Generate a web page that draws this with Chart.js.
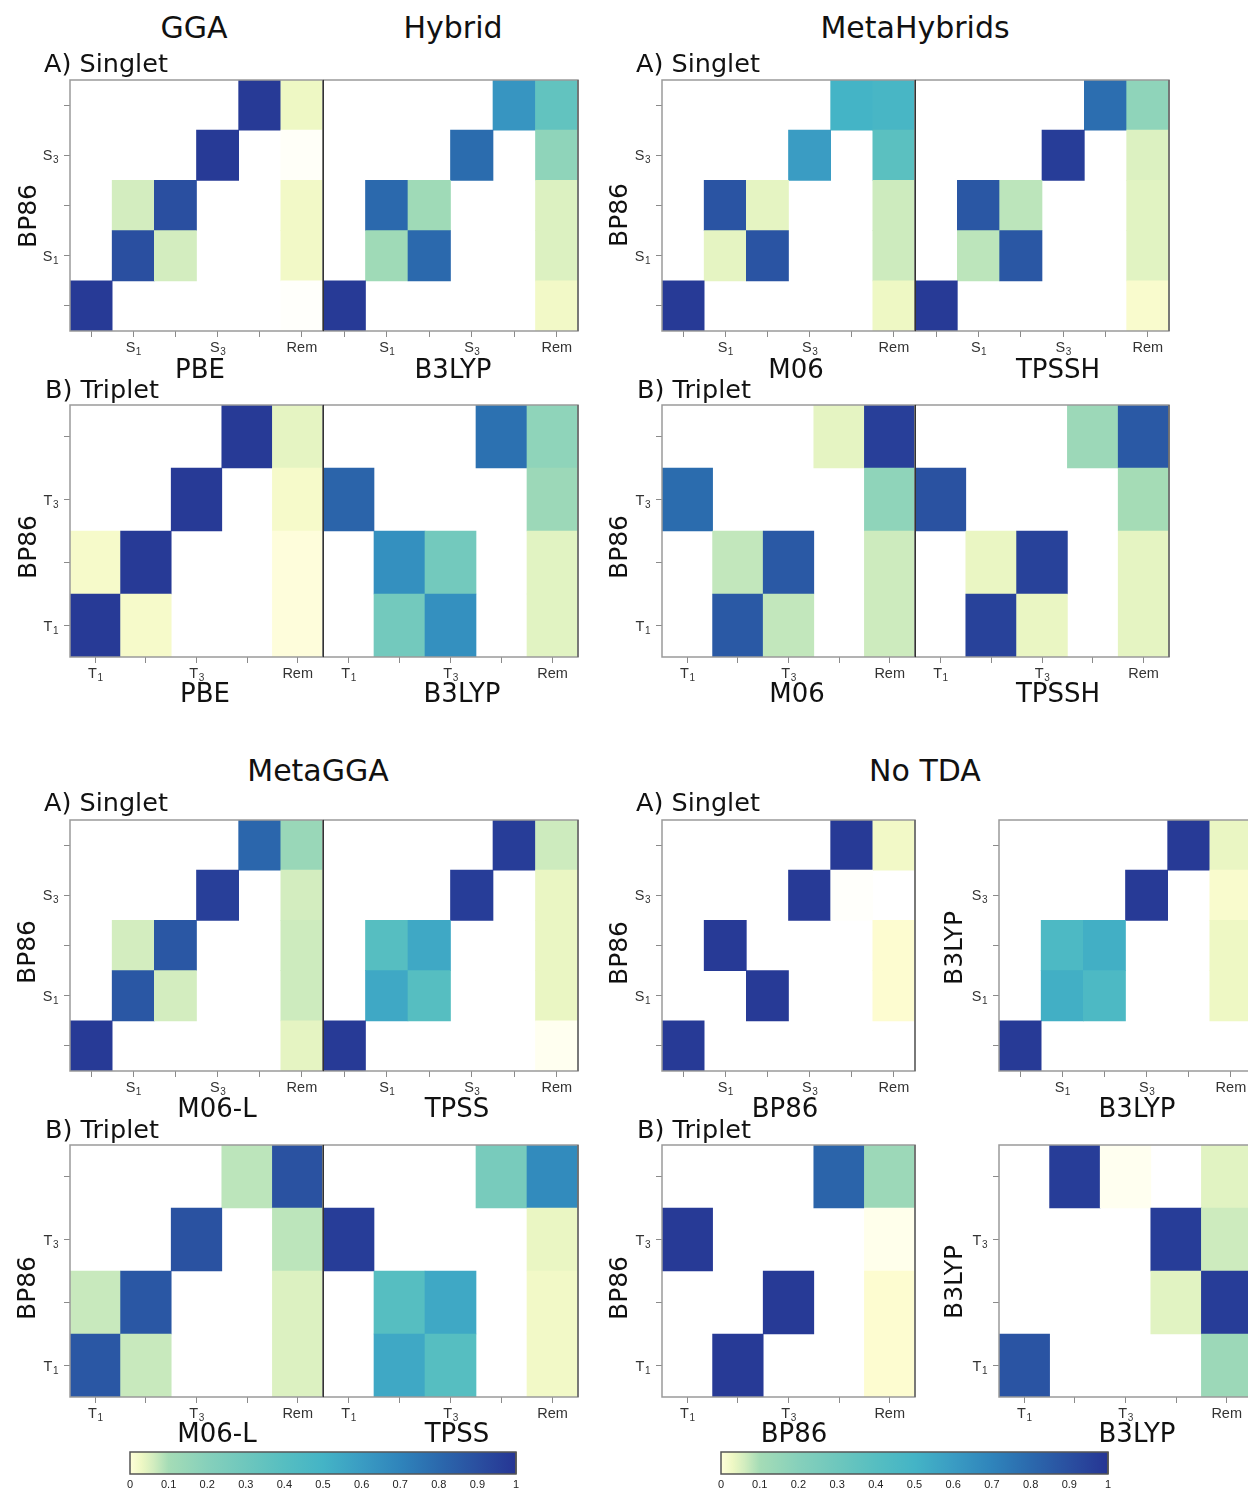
<!DOCTYPE html>
<html>
<head>
<meta charset="utf-8">
<title>State overlap heatmaps</title>
<script src="https://cdn.jsdelivr.net/npm/chart.js@4.4.1/dist/chart.umd.min.js"></script>
<style>
  html, body { margin: 0; padding: 0; width: 1248px; height: 1492px; overflow: hidden; background: #fff; }
  #fig { position: relative; width: 1248px; height: 1492px; }
  canvas { position: absolute; }
  .t { position: absolute; white-space: nowrap; line-height: 1; font-family: 'DejaVu Sans', sans-serif; color: #111; }
</style>
</head>
<body>
<div id="fig"></div>
<script>
// axis categories ("_" marks a subscript in tick labels)
const singletStates = ['S0', 'S1', 'S2', 'S3', 'S4', 'Rem'];
const singletRows = ['S0', 'S1', 'S2', 'S3', 'S4'];
const singletXTicks = ['', 'S_1', '', 'S_3', '', 'Rem'];
const singletYTicks = ['', 'S_1', '', 'S_3', ''];
const tripletStates = ['T1', 'T2', 'T3', 'T4', 'Rem'];
const tripletRows = ['T1', 'T2', 'T3', 'T4'];
const tripletXTicks = ['T_1', '', 'T_3', '', 'Rem'];
const tripletYTicks = ['T_1', '', 'T_3', ''];
const colorbarRange = [0, 1];
const colorbarTicks = [0, 0.1, 0.2, 0.3, 0.4, 0.5, 0.6, 0.7, 0.8, 0.9, 1];

// overlap values, one row per BP86 state (lowest first), last column = Rem; 0 = empty cell
const pbeSinglet = [
  [0.98, 0, 0, 0, 0, 0.001],
  [0, 0.90, 0.06, 0, 0, 0.025],
  [0, 0.06, 0.90, 0, 0, 0.025],
  [0, 0, 0, 0.98, 0, 0.002],
  [0, 0, 0, 0, 0.98, 0.03]
];
const b3lypSinglet = [
  [0.98, 0, 0, 0, 0, 0.025],
  [0, 0.12, 0.80, 0, 0, 0.05],
  [0, 0.80, 0.12, 0, 0, 0.05],
  [0, 0, 0, 0.79, 0, 0.17],
  [0, 0, 0, 0, 0.63, 0.35]
];
const m06Singlet = [
  [0.98, 0, 0, 0, 0, 0.03],
  [0, 0.04, 0.88, 0, 0, 0.065],
  [0, 0.88, 0.04, 0, 0, 0.065],
  [0, 0, 0, 0.60, 0, 0.38],
  [0, 0, 0, 0, 0.50, 0.48]
];
const tpsshSinglet = [
  [0.98, 0, 0, 0, 0, 0.015],
  [0, 0.08, 0.87, 0, 0, 0.045],
  [0, 0.87, 0.08, 0, 0, 0.045],
  [0, 0, 0, 0.97, 0, 0.05],
  [0, 0, 0, 0, 0.78, 0.17]
];
const pbeTriplet = [
  [0.98, 0.02, 0, 0, 0.008],
  [0.02, 0.98, 0, 0, 0.008],
  [0, 0, 0.98, 0, 0.02],
  [0, 0, 0, 0.98, 0.04]
];
const b3lypTriplet = [
  [0, 0.28, 0.65, 0, 0.045],
  [0, 0.65, 0.28, 0, 0.045],
  [0.82, 0, 0, 0, 0.13],
  [0, 0, 0, 0.77, 0.17]
];
const m06Triplet = [
  [0, 0.86, 0.075, 0, 0.065],
  [0, 0.075, 0.86, 0, 0.065],
  [0.79, 0, 0, 0, 0.17],
  [0, 0, 0, 0.04, 0.96]
];
const tpsshTriplet = [
  [0, 0.95, 0.035, 0, 0.04],
  [0, 0.035, 0.95, 0, 0.04],
  [0.89, 0, 0, 0, 0.10],
  [0, 0, 0, 0.13, 0.86]
];
const m06lSinglet = [
  [0.98, 0, 0, 0, 0, 0.04],
  [0, 0.87, 0.06, 0, 0, 0.065],
  [0, 0.06, 0.87, 0, 0, 0.065],
  [0, 0, 0, 0.96, 0, 0.06],
  [0, 0, 0, 0, 0.81, 0.14]
];
const tpssSinglet = [
  [0.98, 0, 0, 0, 0, 0.004],
  [0, 0.55, 0.40, 0, 0, 0.035],
  [0, 0.40, 0.55, 0, 0, 0.035],
  [0, 0, 0, 0.97, 0, 0.035],
  [0, 0, 0, 0, 0.97, 0.065]
];
const m06lTriplet = [
  [0.87, 0.07, 0, 0, 0.05],
  [0.07, 0.87, 0, 0, 0.05],
  [0, 0, 0.89, 0, 0.08],
  [0, 0, 0, 0.08, 0.89]
];
const tpssTriplet = [
  [0, 0.55, 0.40, 0, 0.025],
  [0, 0.40, 0.55, 0, 0.025],
  [0.97, 0, 0, 0, 0.035],
  [0, 0, 0, 0.26, 0.67]
];
const bp86NoTdaSinglet = [
  [0.98, 0, 0, 0, 0, 0],
  [0, 0, 0.98, 0, 0, 0.01],
  [0, 0.98, 0, 0, 0, 0.01],
  [0, 0, 0, 0.98, 0.001, 0],
  [0, 0, 0, 0, 0.98, 0.025]
];
const b3lypNoTdaSinglet = [
  [0.98, 0, 0, 0, 0, 0],
  [0, 0.52, 0.45, 0, 0, 0.03],
  [0, 0.45, 0.52, 0, 0, 0.03],
  [0, 0, 0, 0.98, 0, 0.015],
  [0, 0, 0, 0, 0.98, 0.035]
];
const bp86NoTdaTriplet = [
  [0, 0.98, 0, 0, 0.01],
  [0, 0, 0.98, 0, 0.01],
  [0.98, 0, 0, 0, 0.005],
  [0, 0, 0, 0.82, 0.13]
];
const b3lypNoTdaTriplet = [
  [0.88, 0, 0, 0, 0.13],
  [0, 0, 0, 0.045, 0.97],
  [0, 0, 0, 0.97, 0.065],
  [0, 0.97, 0.004, 0, 0.045]
];

// colour map (near-zero end fades to white)
const cmapStops = [
  [0, '#ffffff'], [0.004, '#fffff0'], [0.01, '#fdfcd0'], [0.03, '#eef8c4'], [0.06, '#d3edbf'],
  [0.1, '#a5dcb6'], [0.2, '#86d0bb'], [0.3, '#6ec7bd'], [0.4, '#56bec1'], [0.5, '#44b4c6'],
  [0.6, '#3a9cc3'], [0.7, '#2f84bb'], [0.8, '#2b69ad'], [0.9, '#2a4fa0'], [1, '#263594']
];
const barStops = [
  [0, '#ffffd9'], [0.03, '#eef8c4'], [0.06, '#d3edbf'], [0.1, '#a5dcb6'],
  [0.2, '#86d0bb'], [0.3, '#6ec7bd'], [0.4, '#56bec1'], [0.5, '#44b4c6'],
  [0.6, '#3a9cc3'], [0.7, '#2f84bb'], [0.8, '#2b69ad'], [0.9, '#2a4fa0'], [1, '#263594']
];

function hexRgb(h) {
  return [1, 3, 5].map(i => parseInt(h.slice(i, i + 2), 16));
}

function colorFor(v) {
  if (!v) return 'rgba(0,0,0,0)';
  for (let i = 1; i < cmapStops.length; i++) {
    const [t1, c1] = cmapStops[i];
    if (v <= t1) {
      const [t0, c0] = cmapStops[i - 1];
      const f = (v - t0) / (t1 - t0);
      const a = hexRgb(c0), b = hexRgb(c1);
      const c = a.map((x, k) => Math.round(x + (b[k] - x) * f));
      return 'rgb(' + c.join(',') + ')';
    }
  }
  return cmapStops[cmapStops.length - 1][1];
}

// draws the box round each plot area
const framePlugin = {
  id: 'frame',
  afterDraw(chart, args, opts) {
    const { ctx, chartArea: a } = chart;
    ctx.save();
    ctx.lineWidth = 1.5;
    ctx.strokeStyle = opts.color || '#9a9a9a';
    ctx.strokeRect(a.left, a.top, a.width, a.height);
    ctx.strokeStyle = opts.rightColor || '#666';
    ctx.beginPath();
    ctx.moveTo(a.right, a.top);
    ctx.lineTo(a.right, a.bottom);
    ctx.stroke();
    if (opts.sepLeft) {
      ctx.lineWidth = 2;
      ctx.strokeStyle = '#333';
      ctx.beginPath();
      ctx.moveTo(a.left, a.top);
      ctx.lineTo(a.left, a.bottom);
      ctx.stroke();
    }
    ctx.restore();
  }
};

// tick labels with a real subscript, placed at the scale's tick pixels
const LABEL_FONT = '"Liberation Sans", Arial, sans-serif';
const subLabelPlugin = {
  id: 'subLabels',
  afterDraw(chart, args, opts) {
    const { ctx, chartArea: a } = chart;
    ctx.save();
    ctx.fillStyle = '#333';
    ctx.textBaseline = 'alphabetic';
    ctx.textAlign = 'left';
    const draw = (label, x, y, align) => {
      const [main, sub] = label.split('_');
      ctx.font = '14.5px ' + LABEL_FONT;
      const w1 = ctx.measureText(main).width;
      ctx.font = '10px ' + LABEL_FONT;
      const w2 = sub ? ctx.measureText(sub).width : 0;
      const x0 = align === 'right' ? x - w1 - w2 : x - (w1 + w2) / 2;
      ctx.font = '14.5px ' + LABEL_FONT;
      ctx.fillText(main, x0, y);
      if (sub) {
        ctx.font = '10px ' + LABEL_FONT;
        ctx.fillText(sub, x0 + w1 + 0.5, y + 3);
      }
    };
    const xs = chart.scales.x;
    opts.x.forEach((lab, i) => { if (lab) draw(lab, xs.getPixelForTick(i), a.bottom + 21, 'center'); });
    const ys = chart.scales.y;
    if (ys.options.display) {
      opts.y.forEach((lab, i) => { if (lab) draw(lab, a.left - 12, ys.getPixelForTick(i) + 5, 'right'); });
    }
    ctx.restore();
  }
};

Chart.defaults.font.family = "'Liberation Sans', Arial, sans-serif";

const fig = document.getElementById('fig');

function text(str, x, y, size, align, rotate) {
  const d = document.createElement('div');
  d.className = 't';
  d.textContent = str;
  d.style.fontSize = size + 'px';
  d.style.left = x + 'px';
  d.style.top = y + 'px';
  let tf = align === 'left' ? 'translate(0,-50%)' : 'translate(-50%,-50%)';
  if (rotate) tf += ' rotate(-90deg)';
  d.style.transform = tf;
  fig.appendChild(d);
}

function heatmap(p) {
  const singlet = p.kind === 'S';
  const cols = singlet ? singletStates : tripletStates;
  const rows = singlet ? singletRows : tripletRows;
  const xTicks = singlet ? singletXTicks : tripletXTicks;
  const yTicks = singlet ? singletYTicks : tripletYTicks;
  const yW = p.yAxis ? 70 : 0;
  const padT = 12, padR = 4, xH = 30;
  const canvas = document.createElement('canvas');
  canvas.width = yW + (p.x1 - p.x0) + padR;
  canvas.height = padT + (p.y1 - p.y0) + xH;
  canvas.style.left = (p.x0 - yW) + 'px';
  canvas.style.top = (p.y0 - padT) + 'px';
  fig.appendChild(canvas);

  new Chart(canvas, {
    type: 'bar',
    data: {
      labels: cols,
      datasets: p.values.map((row, r) => ({
        data: row.map(v => (v > 0 ? [r, r + 1] : null)),
        backgroundColor: row.map(colorFor),
        borderWidth: 0,
        barPercentage: 1,
        categoryPercentage: 1,
        grouped: false
      }))
    },
    options: {
      responsive: false,
      animation: false,
      devicePixelRatio: 1,
      events: [],
      layout: { padding: { top: padT, right: padR, left: 0, bottom: 0 } },
      plugins: {
        legend: { display: false },
        tooltip: { enabled: false },
        frame: { sepLeft: !!p.sepLeft },
        subLabels: { x: xTicks, y: yTicks }
      },
      scales: {
        x: {
          type: 'category',
          offset: true,
          border: { display: false },
          grid: { offset: false, drawOnChartArea: false, tickLength: 6, color: '#8a8a8a' },
          ticks: { autoSkip: false, maxRotation: 0, callback: () => '' },
          afterFit: s => { s.height = xH; }
        },
        y: {
          type: 'linear',
          display: p.yAxis,
          min: 0,
          max: rows.length,
          border: { display: false },
          grid: { drawOnChartArea: false, tickLength: 6, color: '#8a8a8a' },
          afterBuildTicks: s => { s.ticks = rows.map((_, i) => ({ value: i + 0.5 })); },
          ticks: { callback: () => '' },
          afterFit: s => { s.width = yW; }
        }
      }
    },
    plugins: [framePlugin, subLabelPlugin]
  });
}

function colorbar(x0, x1, y0, y1) {
  const padL = 12, padR = 12, padT = 2, axisH = 22;
  const canvas = document.createElement('canvas');
  canvas.width = padL + (x1 - x0) + padR;
  canvas.height = padT + (y1 - y0) + axisH;
  canvas.style.left = (x0 - padL) + 'px';
  canvas.style.top = (y0 - padT) + 'px';
  fig.appendChild(canvas);

  new Chart(canvas, {
    type: 'bar',
    data: {
      labels: ['colour'],
      datasets: [{
        data: [colorbarRange],
        backgroundColor: ctx => {
          const a = ctx.chart.chartArea;
          if (!a) return '#fff';
          const g = ctx.chart.ctx.createLinearGradient(a.left, 0, a.right, 0);
          barStops.forEach(([t, c]) => g.addColorStop(t, c));
          return g;
        },
        borderWidth: 0,
        barPercentage: 1,
        categoryPercentage: 1
      }]
    },
    options: {
      indexAxis: 'y',
      responsive: false,
      animation: false,
      devicePixelRatio: 1,
      events: [],
      layout: { padding: { top: padT, left: padL, right: padR, bottom: 0 } },
      plugins: {
        legend: { display: false },
        tooltip: { enabled: false },
        frame: { color: '#555', rightColor: '#555' }
      },
      scales: {
        x: {
          type: 'linear',
          min: colorbarRange[0],
          max: colorbarRange[1],
          z: 1,
          afterBuildTicks: s => { s.ticks = colorbarTicks.map(v => ({ value: v })); },
          border: { display: false, dash: [4, 14] },
          grid: {
            drawTicks: false,
            lineWidth: 1,
            color: c => (c.tick && (c.tick.value === 0 || c.tick.value === 1)) ? 'rgba(0,0,0,0)' : '#333'
          },
          ticks: { padding: 4, color: '#222', font: { size: 11 }, callback: v => String(v) },
          afterFit: s => { s.height = axisH; }
        },
        y: { display: false }
      }
    },
    plugins: [framePlugin]
  });
}

// panel placement
const panels = [
  { kind: 'S', values: pbeSinglet, x0: 70, x1: 323, y0: 80, y1: 331, yAxis: true },
  { kind: 'S', values: b3lypSinglet, x0: 323, x1: 578, y0: 80, y1: 331, yAxis: false, sepLeft: true },
  { kind: 'T', values: pbeTriplet, x0: 70, x1: 323, y0: 405, y1: 657, yAxis: true },
  { kind: 'T', values: b3lypTriplet, x0: 323, x1: 578, y0: 405, y1: 657, yAxis: false, sepLeft: true },
  { kind: 'S', values: m06Singlet, x0: 662, x1: 915, y0: 80, y1: 331, yAxis: true },
  { kind: 'S', values: tpsshSinglet, x0: 915, x1: 1169, y0: 80, y1: 331, yAxis: false, sepLeft: true },
  { kind: 'T', values: m06Triplet, x0: 662, x1: 915, y0: 405, y1: 657, yAxis: true },
  { kind: 'T', values: tpsshTriplet, x0: 915, x1: 1169, y0: 405, y1: 657, yAxis: false, sepLeft: true },
  { kind: 'S', values: m06lSinglet, x0: 70, x1: 323, y0: 820, y1: 1071, yAxis: true },
  { kind: 'S', values: tpssSinglet, x0: 323, x1: 578, y0: 820, y1: 1071, yAxis: false, sepLeft: true },
  { kind: 'T', values: m06lTriplet, x0: 70, x1: 323, y0: 1145, y1: 1397, yAxis: true },
  { kind: 'T', values: tpssTriplet, x0: 323, x1: 578, y0: 1145, y1: 1397, yAxis: false, sepLeft: true },
  { kind: 'S', values: bp86NoTdaSinglet, x0: 662, x1: 915, y0: 820, y1: 1071, yAxis: true },
  { kind: 'S', values: b3lypNoTdaSinglet, x0: 999, x1: 1252, y0: 820, y1: 1071, yAxis: true },
  { kind: 'T', values: bp86NoTdaTriplet, x0: 662, x1: 915, y0: 1145, y1: 1397, yAxis: true },
  { kind: 'T', values: b3lypNoTdaTriplet, x0: 999, x1: 1252, y0: 1145, y1: 1397, yAxis: true }
];

window.addEventListener('load', () => {
  panels.forEach(heatmap);
  colorbar(130, 516, 1452, 1474);
  colorbar(721, 1108, 1452, 1474);

  // group titles
  text('GGA', 194, 28, 30);
  text('Hybrid', 453, 28, 30);
  text('MetaHybrids', 915, 28, 30);
  text('MetaGGA', 318, 771, 30);
  text('No TDA', 925, 771, 30);

  // panel labels
  [[44, 64], [636, 64], [44, 803], [636, 803]].forEach(([x, y]) => text('A) Singlet', x, y, 25.5, 'left'));
  [[45, 390], [637, 390], [45, 1130], [637, 1130]].forEach(([x, y]) => text('B) Triplet', x, y, 25.5, 'left'));

  // x axis titles
  [['PBE', 200, 369], ['B3LYP', 453, 369], ['M06', 796, 369], ['TPSSH', 1058, 369],
   ['PBE', 205, 693], ['B3LYP', 462, 693], ['M06', 797, 693], ['TPSSH', 1058, 693],
   ['M06-L', 217, 1108], ['TPSS', 457, 1108], ['BP86', 785, 1108], ['B3LYP', 1137, 1108],
   ['M06-L', 217, 1433], ['TPSS', 457, 1433], ['BP86', 794, 1433], ['B3LYP', 1137, 1433]
  ].forEach(([s, x, y]) => text(s, x, y, 26));

  // y axis titles
  [['BP86', 27, 216], ['BP86', 27, 547], ['BP86', 618, 215], ['BP86', 618, 547],
   ['BP86', 26, 952], ['BP86', 26, 1288], ['BP86', 618, 953], ['BP86', 618, 1288],
   ['B3LYP', 953, 948], ['B3LYP', 953, 1282]
  ].forEach(([s, x, y]) => text(s, x, y, 25, 'center', true));
});
</script>
</body>
</html>
